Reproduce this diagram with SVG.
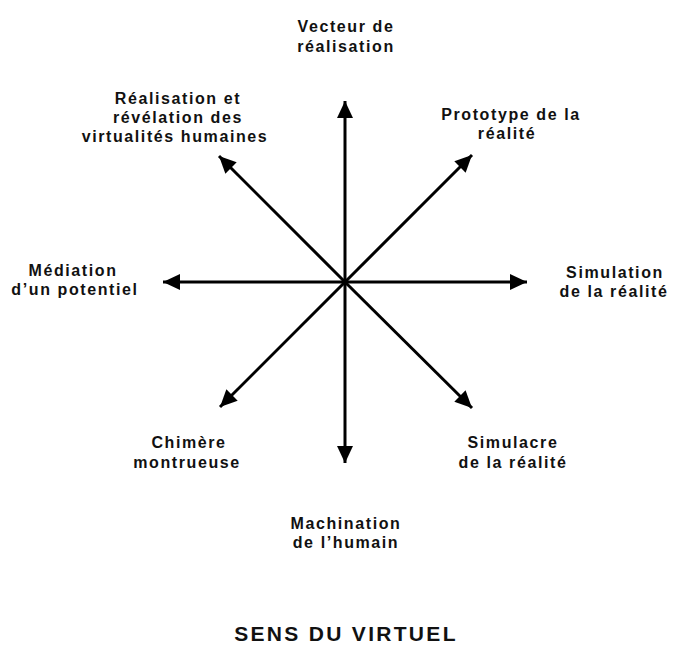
<svg xmlns="http://www.w3.org/2000/svg" width="675" height="646" viewBox="0 0 675 646">
<style>
.lbl{font-family:"Liberation Sans",Arial,sans-serif;font-weight:bold;font-size:16px;letter-spacing:1.6px;fill:#111;text-anchor:middle}
.title{font-family:"Liberation Sans",Arial,sans-serif;font-weight:bold;font-size:21px;letter-spacing:2.3px;fill:#111;text-anchor:middle}
.arm{stroke:#000;stroke-width:3;fill:none;marker-end:url(#ah)}
</style>
<defs>
<marker id="ah" markerUnits="userSpaceOnUse" markerWidth="20" markerHeight="18" refX="17" refY="8" orient="auto" viewBox="0 0 20 16">
<path d="M0,0 L17,8 L0,16 Z" fill="#000"/>
</marker>
</defs>
<rect width="675" height="646" fill="#fff"/>
<g id="connectors">
<line class="arm" x1="345" y1="282" x2="345" y2="101"/>
<line class="arm" x1="345" y1="282" x2="345" y2="463"/>
<line class="arm" x1="345" y1="282" x2="527" y2="282"/>
<line class="arm" x1="345" y1="282" x2="163" y2="282"/>
<line class="arm" x1="345" y1="282" x2="472" y2="155"/>
<line class="arm" x1="345" y1="282" x2="219" y2="156"/>
<line class="arm" x1="345" y1="282" x2="220" y2="407"/>
<line class="arm" x1="345" y1="282" x2="472" y2="408"/>
</g>
<g id="n-vecteur"><text class="lbl" x="346" y="32">Vecteur de</text><text class="lbl" x="346" y="52">réalisation</text></g>
<g id="n-realisation"><text class="lbl" x="178" y="104">Réalisation et</text><text class="lbl" x="178" y="123">révélation des</text><text class="lbl" x="175" y="142">virtualités humaines</text></g>
<g id="n-prototype"><text class="lbl" x="511" y="120">Prototype de la</text><text class="lbl" x="507" y="139">réalité</text></g>
<g id="n-mediation"><text class="lbl" x="73" y="276">Médiation</text><text class="lbl" x="75" y="295">d’un potentiel</text></g>
<g id="n-simulation"><text class="lbl" x="615" y="278">Simulation</text><text class="lbl" x="614" y="297">de la réalité</text></g>
<g id="n-chimere"><text class="lbl" x="189" y="448">Chimère</text><text class="lbl" x="187" y="468">montrueuse</text></g>
<g id="n-simulacre"><text class="lbl" x="513" y="448">Simulacre</text><text class="lbl" x="513" y="468">de la réalité</text></g>
<g id="n-machination"><text class="lbl" x="346" y="529">Machination</text><text class="lbl" x="346" y="548">de l’humain</text></g>
<g id="title"><text class="title" x="346" y="641">SENS DU VIRTUEL</text></g>
</svg>
